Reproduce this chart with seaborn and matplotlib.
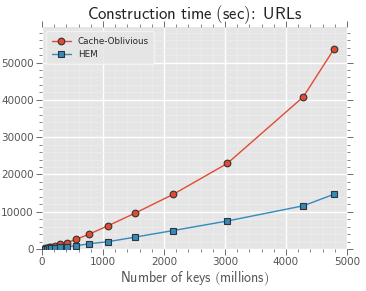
"""
Construction time vs number of keys (URLs dataset), ggplot-like look.
"""
import matplotlib
matplotlib.use("Agg")
import matplotlib.pyplot as plt
import seaborn as sns
from matplotlib.ticker import MultipleLocator

# data
keys_millions = [38, 54, 76, 107, 152, 213, 300, 404, 557, 775, 1087, 1530, 2153, 3038, 4283, 4787]
cache_oblivious = [150, 210, 300, 430, 620, 910, 1260, 1720, 2600, 4030, 6290, 9680, 14700, 22960, 40780, 53600]
hem = [60, 85, 120, 170, 240, 340, 480, 650, 900, 1450, 1990, 3230, 4980, 7530, 11600, 14700]

RED = "#E24A33"
BLUE = "#348ABD"

sns.set_style("darkgrid", {"axes.facecolor": "#E5E5E5", "grid.color": "white"})
plt.rcParams["font.family"] = ["DejaVu Sans"]
plt.rcParams["mathtext.fontset"] = "cm"

fig, ax = plt.subplots(figsize=(3.66, 2.91), dpi=100)
fig.subplots_adjust(left=0.115, right=0.948, top=0.907, bottom=0.144)

sns.lineplot(x=keys_millions, y=cache_oblivious, ax=ax, color=RED, marker="o",
             markersize=4.8, markeredgecolor="#333333", markeredgewidth=0.8,
             linewidth=1.0, label="Cache-Oblivious")
sns.lineplot(x=keys_millions, y=hem, ax=ax, color=BLUE, marker="s",
             markersize=4.8, markeredgecolor="#333333", markeredgewidth=0.8,
             linewidth=1.0, label="HEM")

ax.set_xlim(0, 5000)
ax.set_ylim(0, 59500)
ax.xaxis.set_major_locator(MultipleLocator(1000))
ax.xaxis.set_minor_locator(MultipleLocator(200))
ax.yaxis.set_major_locator(MultipleLocator(10000))
ax.yaxis.set_minor_locator(MultipleLocator(2000))
ax.grid(True, which="major", color="white", linewidth=1.0)
ax.grid(True, which="minor", color="#EEEEEE", linewidth=0.5)
ax.set_axisbelow(True)
for s in ax.spines.values():
    s.set_visible(False)

ax.tick_params(which="both", direction="out", top=True, right=True,
               bottom=True, left=True, color="#555555", labelcolor="#555555",
               labelsize=7.5, pad=2)
ax.tick_params(which="major", length=4, width=0.6)
ax.tick_params(which="minor", length=2, width=0.5)

ax.set_title(r"$\mathsf{Construction\ time\ (sec)\!:\ URLs}$", fontsize=12, color="#222222", pad=6)
ax.set_xlabel(r"$\mathsf{Number\ of\ keys\ (millions)}$", fontsize=10, color="#555555", labelpad=1)

leg = ax.legend(loc="upper left", fontsize=6.3, frameon=True, handlelength=2.2,
                borderpad=0.6, labelspacing=0.45)
leg.get_frame().set_facecolor("#E5E5E5")
leg.get_frame().set_edgecolor("#F5F5F5")
leg.get_frame().set_linewidth(1.0)

fig.savefig("out.png", dpi=100)
